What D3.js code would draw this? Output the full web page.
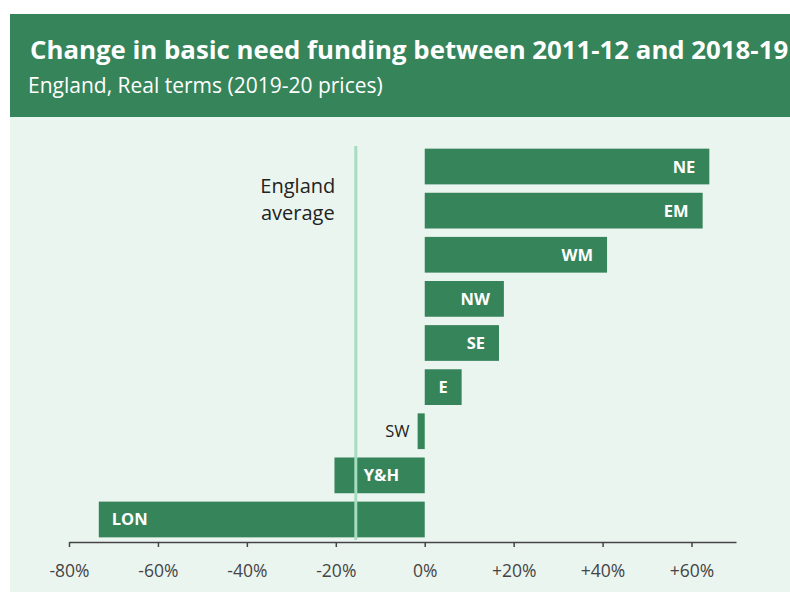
<!DOCTYPE html>
<html>
<head>
<meta charset="utf-8">
<script src="https://cdn.jsdelivr.net/npm/d3@7"></script>
<style>
  body { margin: 0; background: #fff; }
  svg { display: block; font-family: "Open Sans", sans-serif; }
</style>
</head>
<body>
<svg width="790" height="592"></svg>
<script>
// data (percentage change, real terms)
var regions = ["NE", "EM", "WM", "NW", "SE", "E", "SW", "Y&H", "LON"];
var changes = [64.0, 62.5, 41.0, 17.8, 16.7, 8.3, -1.6, -20.3, -73.3];
var englandAverage = -15.5;
var tickValues = [-80, -60, -40, -20, 0, 20, 40, 60];

var svg = d3.select("svg");
var green = "#36845a";

// panel backgrounds
svg.append("rect").attr("x", 10).attr("y", 117).attr("width", 780).attr("height", 475).style("fill", "#ebf5f0");
svg.append("rect").attr("x", 10).attr("y", 14).attr("width", 780).attr("height", 103).style("fill", green);

svg.append("text")
    .attr("x", 30).attr("y", 59)
    .style("font-size", "25.8px").style("font-weight", "bold").style("fill", "#fff")
    .text("Change in basic need funding between 2011-12 and 2018-19");
svg.append("text")
    .attr("x", 28).attr("y", 93)
    .style("font-size", "21px").style("fill", "#fff")
    .text("England, Real terms (2019-20 prices)");

var data = regions.map(function(r, i) { return {region: r, value: changes[i]}; });

var xScale = d3.scaleLinear().domain([-80, 70]).range([69, 736]);
var yScale = d3.scaleBand().domain(regions).range([146, 540]).paddingInner(0.19).paddingOuter(0.06);

// axis
var axis = svg.append("g").attr("transform", "translate(0,542)")
    .call(d3.axisBottom(xScale).tickValues(tickValues).tickSize(5).tickSizeOuter(0)
        .tickFormat(function(d) { return (d > 0 ? "+" : "") + d + "%"; }));
axis.select(".domain").style("stroke", "#444").style("stroke-width", 1.5);
axis.selectAll(".tick line").style("stroke", "#444").style("stroke-width", 1.5);
axis.selectAll(".tick text").attr("dy", 0).attr("y", 35)
    .style("font-family", "Open Sans, sans-serif").style("font-size", "17.5px").style("fill", "#444");

// bars
svg.selectAll(".bar")
    .data(data)
    .enter()
    .append("rect")
    .attr("class", "bar")
    .attr("x", function(d) { return xScale(Math.min(0, d.value)); })
    .attr("y", function(d) { return yScale(d.region); })
    .attr("width", function(d) { return Math.abs(xScale(d.value) - xScale(0)); })
    .attr("height", yScale.bandwidth())
    .style("fill", green);

// average line
var avgX = xScale(englandAverage);
svg.append("line")
    .attr("x1", avgX).attr("x2", avgX)
    .attr("y1", 146).attr("y2", 540)
    .style("stroke", "#a6dcbf").style("stroke-width", 3);

svg.append("text")
    .attr("y", 193)
    .style("text-anchor", "middle").style("font-size", "20px").style("fill", "#222")
    .selectAll("tspan")
    .data(["England", "average"])
    .enter()
    .append("tspan")
    .attr("x", avgX - 58)
    .attr("dy", function(d, i) { return i === 0 ? 0 : 27; })
    .text(function(d) { return d; });

function barWidth(d) { return Math.abs(xScale(d.value) - xScale(0)); }

// labels
svg.selectAll(".lbl")
    .data(data)
    .enter()
    .append("text")
    .attr("class", "lbl")
    .attr("y", function(d) { return yScale(d.region) + yScale.bandwidth() / 2 + 6; })
    .attr("x", function(d) {
        if (d.value >= 0) return xScale(d.value) - 14;
        if (barWidth(d) < 30) return xScale(d.value) - 8;
        var start = xScale(d.value) + 13;
        if (start < avgX + 8 && start + 40 > avgX) start = avgX + 8;
        return start;
    })
    .style("text-anchor", function(d) {
        return (d.value >= 0 || barWidth(d) < 30) ? "end" : "start";
    })
    .style("font-size", "16.5px")
    .style("font-weight", function(d) { return barWidth(d) < 30 ? "normal" : "bold"; })
    .style("fill", function(d) { return barWidth(d) < 30 ? "#222" : "#fff"; })
    .text(function(d) { return d.region; });
</script>
</body>
</html>
